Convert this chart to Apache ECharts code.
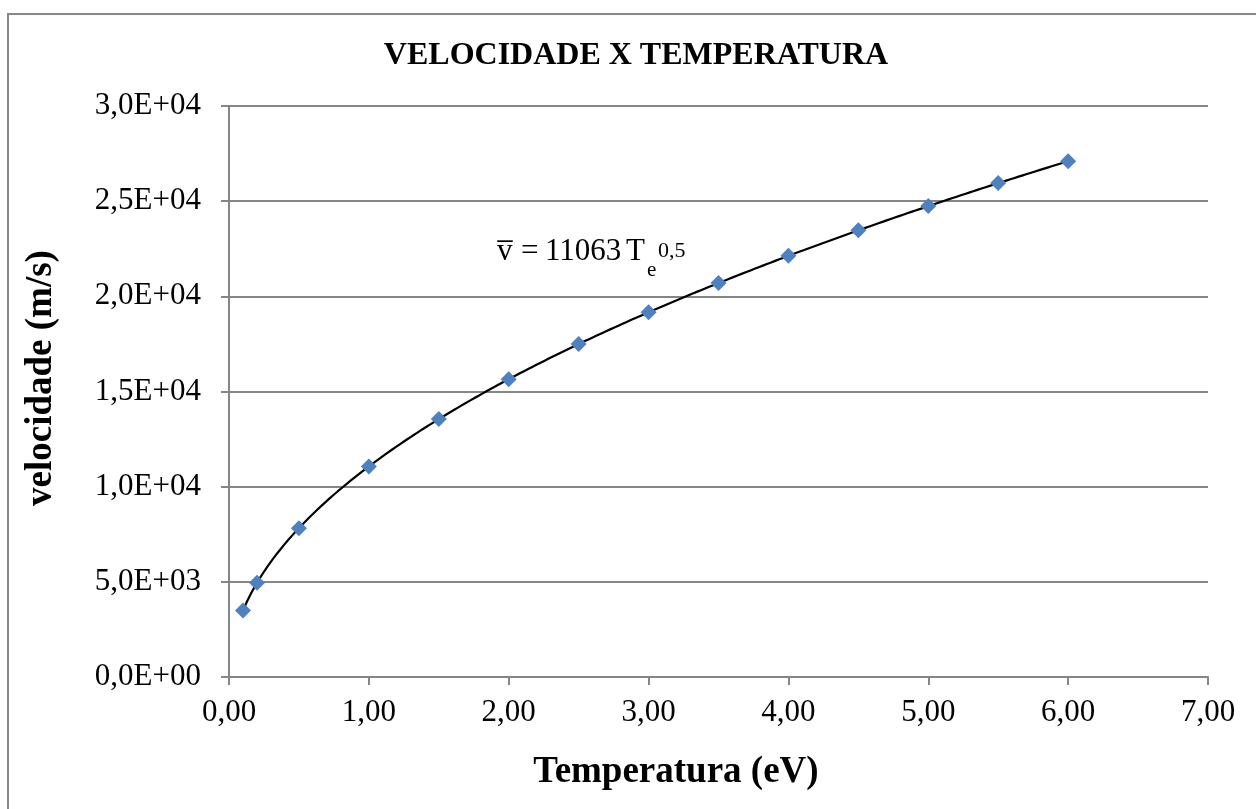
<!DOCTYPE html>
<html>
<head>
<meta charset="utf-8">
<script src="https://cdn.jsdelivr.net/npm/echarts@6/dist/echarts.min.js"></script>
<style>
  html, body { margin: 0; padding: 0; background: #fff; }
  #chart { width: 1256px; height: 809px; }
</style>
</head>
<body>
<div id="chart"></div>
<script>
// Measured mean electron speed for each temperature
const temperatures = [0.1, 0.2, 0.5, 1.0, 1.5, 2.0, 2.5, 3.0, 3.5, 4.0, 4.5, 5.0, 5.5, 6.0];
const velocities = [3500, 4950, 7820, 11060, 13550, 15650, 17490, 19160, 20700, 22130, 23470, 24740, 25950, 27100];

// Power-law trend line stated on the chart: v = 11063 * Te^0.5
const fitCoef = 11063;
const fitExp = 0.5;
const fitRange = [0.1, 6.0];

const xTicks = { min: 0, max: 7, interval: 1 };
const yTicks = { min: 0, max: 30000, interval: 5000 };

const titleText = 'VELOCIDADE X TEMPERATURA';
const xName = 'Temperatura (eV)';
const yName = 'velocidade (m/s)';

const fitLine = [];
for (let i = 0; i <= 200; i++) {
  const t = fitRange[0] + (fitRange[1] - fitRange[0]) * i / 200;
  fitLine.push([t, fitCoef * Math.pow(t, fitExp)]);
}

const serif = '"Liberation Serif", "Times New Roman", serif';
const gray = '#868686';

function fmtX(v) { return v.toFixed(2).replace('.', ','); }
function fmtY(v) {
  if (v === 0) return '0,0E+00';
  const exp = Math.floor(Math.log10(Math.abs(v)));
  const mant = v / Math.pow(10, exp);
  const e = (exp < 10 ? '0' : '') + exp;
  return mant.toFixed(1).replace('.', ',') + 'E+' + e;
}

// Equation label pieces (overlined v, coefficient, T with subscript e and exponent)
const eqFont = '31px ' + serif;
const eqSmall = '21px ' + serif;
const eqParts = [
  { text: 'v\u0305', x: 497, y: 252, font: eqFont },
  { text: '=', x: 521, y: 252, font: eqFont },
  { text: String(fitCoef), x: 545, y: 252, font: eqFont },
  { text: 'T', x: 626, y: 252, font: eqFont },
  { text: 'e', x: 647, y: 270, font: eqSmall },
  { text: String(fitExp).replace('.', ','), x: 658, y: 251, font: '22px ' + serif }
];

const chart = echarts.init(document.getElementById('chart'), null, { renderer: 'canvas' });
chart.setOption({
  backgroundColor: '#ffffff',
  animation: false,
  grid: { left: 229, right: 48, top: 106, bottom: 132, containLabel: false },
  xAxis: {
    type: 'value',
    min: xTicks.min, max: xTicks.max, interval: xTicks.interval,
    axisLine: { show: true, onZero: false, lineStyle: { color: gray, width: 2 } },
    axisTick: { show: true, inside: false, length: 8, lineStyle: { color: gray, width: 2 } },
    splitLine: { show: false },
    axisLabel: { formatter: fmtX, fontFamily: serif, fontSize: 31, color: '#000', margin: 20 }
  },
  yAxis: {
    type: 'value',
    min: yTicks.min, max: yTicks.max, interval: yTicks.interval,
    axisLine: { show: true, lineStyle: { color: gray, width: 2 } },
    axisTick: { show: true, inside: false, length: 8, lineStyle: { color: gray, width: 2 } },
    splitLine: { show: true, lineStyle: { color: gray, width: 2 } },
    axisLabel: { formatter: fmtY, fontFamily: serif, fontSize: 31, color: '#000', margin: 28 }
  },
  series: [
    {
      name: 'ajuste',
      type: 'line',
      data: fitLine,
      showSymbol: false,
      smooth: false,
      lineStyle: { color: '#000', width: 2.2 },
      z: 2
    },
    {
      name: 'velocidade',
      type: 'scatter',
      data: temperatures.map((t, i) => [t, velocities[i]]),
      symbol: 'diamond',
      symbolSize: 16,
      itemStyle: { color: '#4F81BD', opacity: 1 },
      z: 3
    }
  ],
  graphic: [
    {
      type: 'rect', silent: true, z: -1,
      shape: { x: 8, y: 14, width: 1400, height: 1000 },
      style: { fill: 'none', stroke: '#888888', lineWidth: 2 }
    },
    {
      type: 'text', x: 636, y: 56,
      style: { text: titleText, font: 'bold 32px ' + serif, fill: '#000', align: 'center', verticalAlign: 'middle' }
    },
    {
      type: 'text', x: 676, y: 772,
      style: { text: xName, font: 'bold 37px ' + serif, fill: '#000', align: 'center', verticalAlign: 'middle' }
    },
    {
      type: 'text', x: 41, y: 378, rotation: Math.PI / 2,
      style: { text: yName, font: 'bold 37px ' + serif, fill: '#000', align: 'center', verticalAlign: 'middle' }
    }
  ].concat(eqParts.map(p => ({
    type: 'text', x: p.x, y: p.y,
    style: { text: p.text, font: p.font, fill: '#000', align: 'left', verticalAlign: 'middle' }
  })))
});
</script>
</body>
</html>
